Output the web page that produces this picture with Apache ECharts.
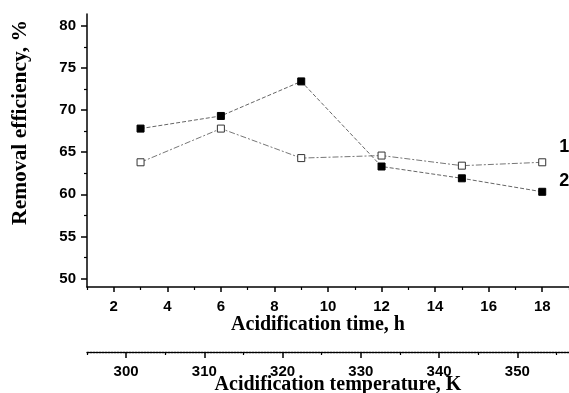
<!DOCTYPE html>
<html>
<head>
<meta charset="utf-8">
<script src="https://cdn.jsdelivr.net/npm/echarts@6/dist/echarts.min.js"></script>
<style>
  html, body { margin: 0; padding: 0; background: #fff; }
  #chart { width: 569px; height: 393px; }
</style>
</head>
<body>
<div id="chart"></div>
<script>
// data
var timeH = [3, 6, 9, 12, 15, 18];
var removal1 = [63.8, 67.8, 64.3, 64.6, 63.4, 63.8];   // open squares, curve 1
var removal2 = [67.8, 69.3, 73.4, 63.3, 61.9, 60.3];   // filled squares, curve 2
var timeTicks = [2, 4, 6, 8, 10, 12, 14, 16, 18];
var timeMinor = [1, 3, 5, 7, 9, 11, 13, 15, 17, 19];
var tempTicks = [300, 310, 320, 330, 340, 350];
var tempMinor = [295, 305, 315, 325, 335, 345, 355];
var yTicks = [50, 55, 60, 65, 70, 75, 80];
var yMinor = [52.5, 57.5, 62.5, 67.5, 72.5, 77.5];

function pairs(xs, ys) {
    return xs.map(function (x, i) { return [x, ys[i]]; });
}

var chart = echarts.init(document.getElementById('chart'), null, { renderer: 'canvas' });

var tickFont = { fontFamily: 'Liberation Sans', fontWeight: 'bold', fontSize: 15, color: '#000' };
var nameFont = { fontFamily: 'Liberation Serif', fontWeight: 'bold', fontSize: 20, color: '#000' };
var blackLine = { show: true, lineStyle: { color: '#000', width: 1.5 } };

var option = {
    animation: false,
    backgroundColor: '#fff',
    grid: { left: 87, right: 0, top: 14, bottom: 106, containLabel: false, outerBoundsMode: 'none' },
    xAxis: [{
        type: 'value', min: 1, max: 19, position: 'bottom',
        axisLine: blackLine,
        axisTick: { show: true, inside: false, length: 5, customValues: timeTicks, lineStyle: { color: '#000', width: 1.5 } },
        axisLabel: Object.assign({ margin: 12, customValues: timeTicks }, tickFont),
        splitLine: { show: false },
        name: 'Acidification time, h', nameLocation: 'middle', nameGap: 28, nameMoveOverlap: false,
        nameTextStyle: Object.assign({ padding: [0, 20, 0, 0] }, nameFont)
    }, {
        type: 'value', min: 1, max: 19, position: 'bottom',
        axisLine: { show: false },
        axisTick: { show: true, length: 3, customValues: timeMinor, lineStyle: { color: '#000', width: 1.2 } },
        axisLabel: { show: false },
        splitLine: { show: false }
    }, {
        type: 'value', min: 295, max: 356.6, position: 'bottom', offset: 65,
        axisLine: { show: true, lineStyle: { color: '#000', width: 1.3, type: [2, 1] } },
        axisTick: { show: true, length: 6, customValues: tempTicks, lineStyle: { color: '#000', width: 1.5 } },
        axisLabel: Object.assign({ margin: 12, customValues: tempTicks }, tickFont),
        splitLine: { show: false },
        name: 'Acidification temperature, K', nameLocation: 'middle', nameGap: 23, nameMoveOverlap: false,
        nameTextStyle: Object.assign({ padding: [0, 0, 0, 20] }, nameFont)
    }, {
        type: 'value', min: 295, max: 356.6, position: 'bottom', offset: 65,
        axisLine: { show: false },
        axisTick: { show: true, length: 3, customValues: tempMinor, lineStyle: { color: '#000', width: 1.2 } },
        axisLabel: { show: false },
        splitLine: { show: false }
    }],
    yAxis: [{
        type: 'value', min: 49, max: 81.4, position: 'left',
        axisLine: blackLine,
        axisTick: { show: true, length: 6, customValues: yTicks, lineStyle: { color: '#000', width: 1.5 } },
        axisLabel: Object.assign({ margin: 11, customValues: yTicks }, tickFont),
        splitLine: { show: false },
        name: 'Removal efficiency, %', nameLocation: 'middle', nameGap: 56, nameRotate: 90, nameMoveOverlap: false,
        nameTextStyle: Object.assign({}, nameFont, { fontSize: 21.5, padding: [0, 0, 0, 56] })
    }, {
        type: 'value', min: 49, max: 81.4, position: 'left',
        axisLine: { show: false },
        axisTick: { show: true, length: 3, customValues: yMinor, lineStyle: { color: '#000', width: 1.2 } },
        axisLabel: { show: false },
        splitLine: { show: false }
    }],
    series: [{
        name: '1',
        type: 'line',
        xAxisIndex: 0, yAxisIndex: 0,
        data: pairs(timeH, removal1),
        symbol: 'rect', symbolSize: 7,
        itemStyle: { color: '#fff', borderColor: '#333', borderWidth: 1 },
        lineStyle: { color: '#777', width: 1, type: [6, 2, 2, 2] },
        endLabel: { show: true, formatter: '1', offset: [9, -15], fontFamily: 'Liberation Sans', fontWeight: 'bold', fontSize: 18, color: '#000' },
        z: 3
    }, {
        name: '2',
        type: 'line',
        xAxisIndex: 0, yAxisIndex: 0,
        data: pairs(timeH, removal2),
        symbol: 'rect', symbolSize: 7,
        itemStyle: { color: '#000', borderColor: '#000', borderWidth: 1 },
        lineStyle: { color: '#666', width: 1, type: [4, 2] },
        endLabel: { show: true, formatter: '2', offset: [9, -11], fontFamily: 'Liberation Sans', fontWeight: 'bold', fontSize: 18, color: '#000' },
        z: 4
    }]
};

chart.setOption(option);
</script>
</body>
</html>
